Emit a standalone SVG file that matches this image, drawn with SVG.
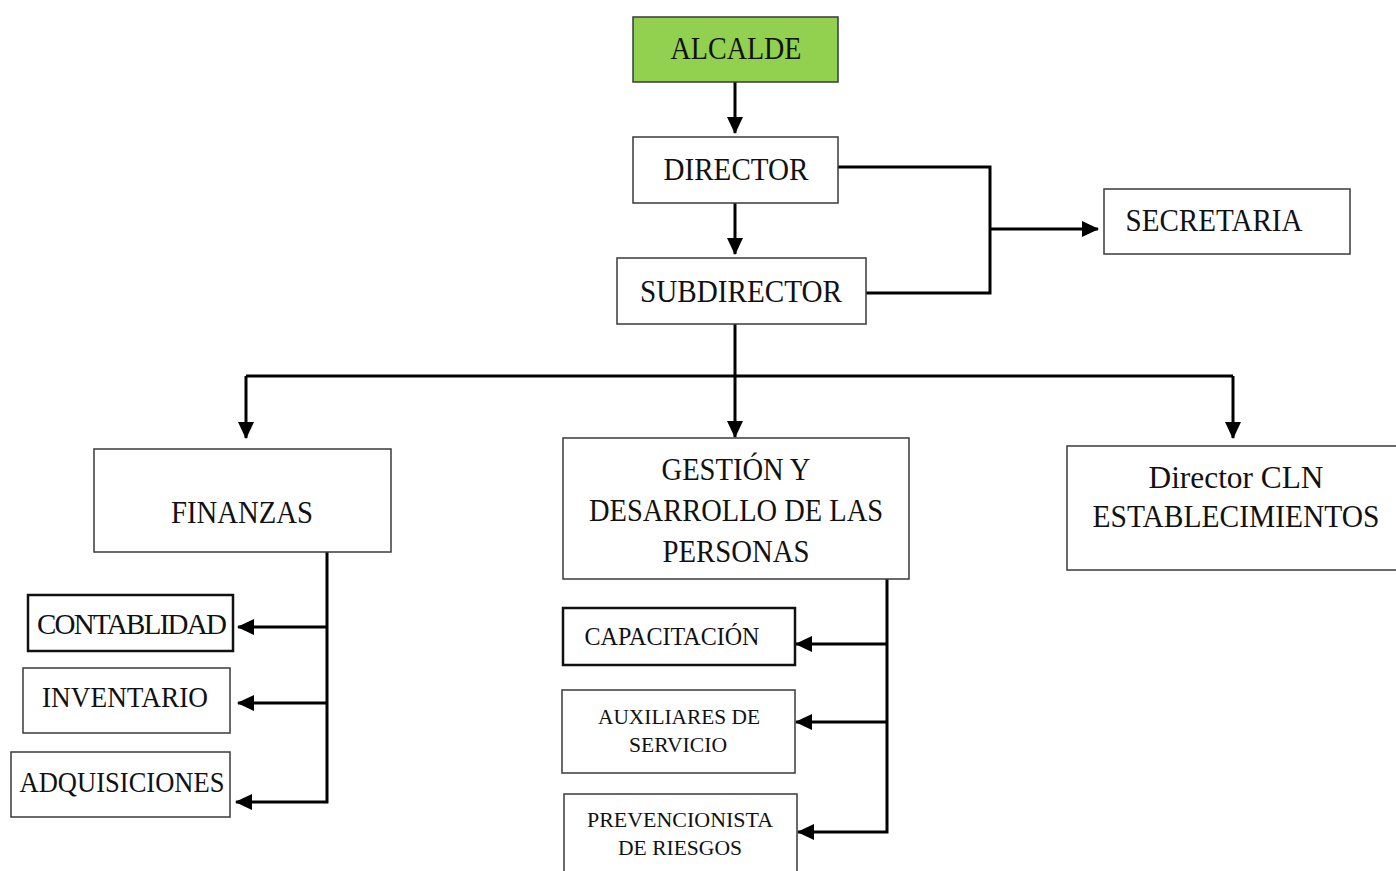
<svg xmlns="http://www.w3.org/2000/svg" width="1396" height="871" viewBox="0 0 1396 871">
<style>
.box{fill:#fff;stroke:#3a3a3a;stroke-width:1.5}
.thick{stroke:#111;stroke-width:2.5}
.green{fill:#92d050}
text{font-family:"Liberation Serif","Times New Roman",serif;fill:#111;text-anchor:middle}
.t{font-size:31px}
.m{font-size:29px}
.s{font-size:22px}
.c{fill:none;stroke:#000;stroke-width:3}
</style>
<defs>
<marker id="ah" markerUnits="userSpaceOnUse" markerWidth="18" markerHeight="18" refX="16" refY="8" orient="auto">
<path d="M0,0 L17,8 L0,16 z" fill="#000"/>
</marker>
</defs>
<rect width="1396" height="871" fill="#fff"/>
<g id="connectors">
<path class="c" d="M735,82 V133" marker-end="url(#ah)"/>
<path class="c" d="M735,203 V254" marker-end="url(#ah)"/>
<path class="c" d="M838,167 H990 V293 H866"/>
<path class="c" d="M990,229 H1098" marker-end="url(#ah)"/>
<path class="c" d="M735,324 V437" marker-end="url(#ah)"/>
<path class="c" d="M246,376 H1233"/>
<path class="c" d="M246,376 V438" marker-end="url(#ah)"/>
<path class="c" d="M1233,376 V438" marker-end="url(#ah)"/>
<path class="c" d="M327,552 V802 H236" marker-end="url(#ah)"/>
<path class="c" d="M327,627 H238" marker-end="url(#ah)"/>
<path class="c" d="M327,703 H238" marker-end="url(#ah)"/>
<path class="c" d="M887,579 V832 H798" marker-end="url(#ah)"/>
<path class="c" d="M887,644 H796" marker-end="url(#ah)"/>
<path class="c" d="M887,722 H796" marker-end="url(#ah)"/>
</g>
<g id="alcalde"><rect class="box green" x="633" y="17" width="205" height="65"/><text class="t" x="736" y="59" textLength="131" lengthAdjust="spacingAndGlyphs">ALCALDE</text></g>
<g id="director"><rect class="box" x="633" y="137" width="205" height="66"/><text class="t" x="736" y="180" textLength="145" lengthAdjust="spacingAndGlyphs">DIRECTOR</text></g>
<g id="subdirector"><rect class="box" x="617" y="258" width="249" height="66"/><text class="t" x="741" y="302" textLength="202" lengthAdjust="spacingAndGlyphs">SUBDIRECTOR</text></g>
<g id="secretaria"><rect class="box" x="1104" y="189" width="246" height="65"/><text class="t" x="1214" y="231" textLength="177" lengthAdjust="spacingAndGlyphs">SECRETARIA</text></g>
<g id="finanzas"><rect class="box" x="94" y="449" width="297" height="103"/><text class="t" x="242" y="523" textLength="142" lengthAdjust="spacingAndGlyphs">FINANZAS</text></g>
<g id="gestion"><rect class="box" x="563" y="438" width="346" height="141"/>
<text class="t" x="736" y="480" textLength="149" lengthAdjust="spacingAndGlyphs">GESTIÓN Y</text>
<text class="t" x="736" y="521" textLength="294" lengthAdjust="spacingAndGlyphs">DESARROLLO DE LAS</text>
<text class="t" x="736" y="562" textLength="147" lengthAdjust="spacingAndGlyphs">PERSONAS</text></g>
<g id="directorcln"><rect class="box" x="1067" y="446" width="332" height="124"/>
<text class="t" x="1236" y="488" textLength="175" lengthAdjust="spacingAndGlyphs">Director CLN</text>
<text class="t" x="1236" y="527" textLength="287" lengthAdjust="spacingAndGlyphs">ESTABLECIMIENTOS</text></g>
<g id="contabilidad"><rect class="box thick" x="28" y="595" width="205" height="56"/><text class="m" x="132" y="634" textLength="190">CONTABLIDAD</text></g>
<g id="inventario"><rect class="box" x="23" y="668" width="207" height="65"/><text class="m" x="125" y="707" textLength="166" lengthAdjust="spacingAndGlyphs">INVENTARIO</text></g>
<g id="adquisiciones"><rect class="box" x="11" y="752" width="219" height="65"/><text class="m" x="122" y="792" textLength="205" lengthAdjust="spacingAndGlyphs">ADQUISICIONES</text></g>
<g id="capacitacion"><rect class="box thick" x="563" y="608" width="232" height="57"/><text class="s" x="672" y="645" style="font-size:25px" textLength="175" lengthAdjust="spacingAndGlyphs">CAPACITACIÓN</text></g>
<g id="auxiliares"><rect class="box" x="562" y="690" width="233" height="83"/>
<text class="s" x="679" y="724" textLength="162" lengthAdjust="spacingAndGlyphs">AUXILIARES DE</text>
<text class="s" x="678" y="752" textLength="98" lengthAdjust="spacingAndGlyphs">SERVICIO</text></g>
<g id="prevencionista"><rect class="box" x="564" y="794" width="233" height="90"/>
<text class="s" x="680" y="827" textLength="186" lengthAdjust="spacingAndGlyphs">PREVENCIONISTA</text>
<text class="s" x="680" y="855" textLength="124" lengthAdjust="spacingAndGlyphs">DE RIESGOS</text></g>
</svg>
